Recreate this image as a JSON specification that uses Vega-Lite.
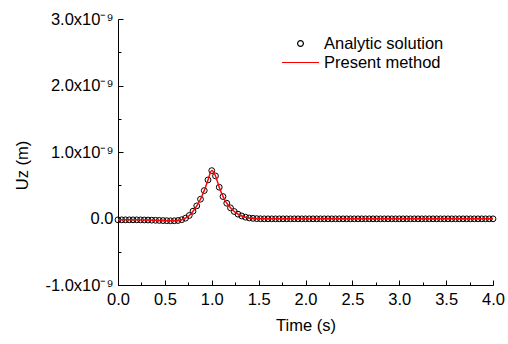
{
  "$schema": "https://vega.github.io/schema/vega-lite/v6.json",
  "width": 375,
  "height": 266,
  "autosize": "none",
  "padding": {"left": 118, "top": 19, "right": 15, "bottom": 59},
  "background": "white",
  "config": {
    "font": "Liberation Sans",
    "view": {"stroke": null},
    "axis": {"grid": false, "domainColor": "black", "domainWidth": 1, "tickColor": "black", "tickWidth": 1, "labelColor": "black", "titleColor": "black", "labelFontSize": 16.5, "titleFontSize": 16.5, "titleFontWeight": "normal", "labelFont": "Liberation Sans", "titleFont": "Liberation Sans"}
  },
  "data": {"values": [
    {"t": 0.00, "uz_nm": -0.02}, {"t": 0.04, "uz_nm": -0.02}, {"t": 0.08, "uz_nm": -0.02}, {"t": 0.12, "uz_nm": -0.02},
    {"t": 0.16, "uz_nm": -0.02}, {"t": 0.20, "uz_nm": -0.02}, {"t": 0.24, "uz_nm": -0.021}, {"t": 0.28, "uz_nm": -0.022},
    {"t": 0.32, "uz_nm": -0.023}, {"t": 0.36, "uz_nm": -0.025}, {"t": 0.40, "uz_nm": -0.027}, {"t": 0.44, "uz_nm": -0.029},
    {"t": 0.48, "uz_nm": -0.031}, {"t": 0.52, "uz_nm": -0.033}, {"t": 0.56, "uz_nm": -0.034}, {"t": 0.60, "uz_nm": -0.034},
    {"t": 0.64, "uz_nm": -0.03}, {"t": 0.68, "uz_nm": -0.018}, {"t": 0.72, "uz_nm": 0.005}, {"t": 0.76, "uz_nm": 0.045},
    {"t": 0.80, "uz_nm": 0.11}, {"t": 0.84, "uz_nm": 0.19}, {"t": 0.88, "uz_nm": 0.29}, {"t": 0.92, "uz_nm": 0.42},
    {"t": 0.96, "uz_nm": 0.58}, {"t": 1.00, "uz_nm": 0.72}, {"t": 1.04, "uz_nm": 0.64}, {"t": 1.08, "uz_nm": 0.47},
    {"t": 1.12, "uz_nm": 0.33}, {"t": 1.16, "uz_nm": 0.23}, {"t": 1.20, "uz_nm": 0.16}, {"t": 1.24, "uz_nm": 0.105},
    {"t": 1.28, "uz_nm": 0.065}, {"t": 1.32, "uz_nm": 0.038}, {"t": 1.36, "uz_nm": 0.02}, {"t": 1.40, "uz_nm": 0.008},
    {"t": 1.44, "uz_nm": 0.002}, {"t": 1.48, "uz_nm": -0.002}, {"t": 1.52, "uz_nm": -0.004}, {"t": 1.56, "uz_nm": -0.005},
    {"t": 1.60, "uz_nm": -0.005}, {"t": 1.64, "uz_nm": -0.005}, {"t": 1.68, "uz_nm": -0.005}, {"t": 1.72, "uz_nm": -0.005},
    {"t": 1.76, "uz_nm": -0.005}, {"t": 1.80, "uz_nm": -0.005}, {"t": 1.84, "uz_nm": -0.005}, {"t": 1.88, "uz_nm": -0.005},
    {"t": 1.92, "uz_nm": -0.005}, {"t": 1.96, "uz_nm": -0.005}, {"t": 2.00, "uz_nm": -0.005}, {"t": 2.04, "uz_nm": -0.005},
    {"t": 2.08, "uz_nm": -0.005}, {"t": 2.12, "uz_nm": -0.005}, {"t": 2.16, "uz_nm": -0.005}, {"t": 2.20, "uz_nm": -0.005},
    {"t": 2.24, "uz_nm": -0.005}, {"t": 2.28, "uz_nm": -0.005}, {"t": 2.32, "uz_nm": -0.005}, {"t": 2.36, "uz_nm": -0.005},
    {"t": 2.40, "uz_nm": -0.005}, {"t": 2.44, "uz_nm": -0.005}, {"t": 2.48, "uz_nm": -0.005}, {"t": 2.52, "uz_nm": -0.005},
    {"t": 2.56, "uz_nm": -0.005}, {"t": 2.60, "uz_nm": -0.005}, {"t": 2.64, "uz_nm": -0.005}, {"t": 2.68, "uz_nm": -0.005},
    {"t": 2.72, "uz_nm": -0.005}, {"t": 2.76, "uz_nm": -0.005}, {"t": 2.80, "uz_nm": -0.005}, {"t": 2.84, "uz_nm": -0.005},
    {"t": 2.88, "uz_nm": -0.005}, {"t": 2.92, "uz_nm": -0.005}, {"t": 2.96, "uz_nm": -0.005}, {"t": 3.00, "uz_nm": -0.005},
    {"t": 3.04, "uz_nm": -0.005}, {"t": 3.08, "uz_nm": -0.005}, {"t": 3.12, "uz_nm": -0.005}, {"t": 3.16, "uz_nm": -0.005},
    {"t": 3.20, "uz_nm": -0.005}, {"t": 3.24, "uz_nm": -0.005}, {"t": 3.28, "uz_nm": -0.005}, {"t": 3.32, "uz_nm": -0.005},
    {"t": 3.36, "uz_nm": -0.005}, {"t": 3.40, "uz_nm": -0.005}, {"t": 3.44, "uz_nm": -0.005}, {"t": 3.48, "uz_nm": -0.005},
    {"t": 3.52, "uz_nm": -0.005}, {"t": 3.56, "uz_nm": -0.005}, {"t": 3.60, "uz_nm": -0.005}, {"t": 3.64, "uz_nm": -0.005},
    {"t": 3.68, "uz_nm": -0.005}, {"t": 3.72, "uz_nm": -0.005}, {"t": 3.76, "uz_nm": -0.005}, {"t": 3.80, "uz_nm": -0.005},
    {"t": 3.84, "uz_nm": -0.005}, {"t": 3.88, "uz_nm": -0.005}, {"t": 3.92, "uz_nm": -0.005}, {"t": 3.96, "uz_nm": -0.005},
    {"t": 4.00, "uz_nm": -0.005}
  ]},
  "encoding": {
    "x": {
      "field": "t", "type": "quantitative",
      "scale": {"domain": [0, 4], "nice": false, "zero": false},
      "axis": {
        "title": "Time (s)",
        "values": [0, 0.25, 0.5, 0.75, 1, 1.25, 1.5, 1.75, 2, 2.25, 2.5, 2.75, 3, 3.25, 3.5, 3.75, 4],
        "labelExpr": "abs(datum.value*2 - round(datum.value*2)) > 1e-6 ? '' : format(datum.value, '.1f')",
        "tickSize": {"condition": {"test": "abs(datum.value*2 - round(datum.value*2)) < 1e-6", "value": -5}, "value": -3},
        "labelPadding": 11,
        "labelFlush": false,
        "labelOverlap": false,
        "titlePadding": 8
      }
    },
    "y": {
      "field": "uz_nm", "type": "quantitative",
      "scale": {"domain": [-1, 3], "nice": false, "zero": false},
      "axis": {
        "title": "Uz (m)",
        "values": [-1, -0.5, 0, 0.5, 1, 1.5, 2, 2.5, 3],
        "labelExpr": "abs(datum.value - round(datum.value)) > 1e-6 ? '' : (abs(datum.value) < 1e-9 ? '0.0' : (datum.value < 0 ? '-' : '') + format(abs(datum.value), '.1f') + 'x10⁻⁹')",
        "tickSize": {"condition": {"test": "abs(datum.value - round(datum.value)) < 1e-6", "value": -5}, "value": -3},
        "labelPadding": 10,
        "labelFlush": false,
        "labelOverlap": false,
        "titlePadding": 14,
        "titleY": 146
      }
    }
  },
  "layer": [
    {
      "mark": {"type": "point", "filled": false, "strokeWidth": 1, "opacity": 1},
      "encoding": {
        "color": {"datum": "Analytic solution", "type": "nominal", "scale": {"domain": ["Analytic solution", "Present method"], "range": ["black", "red"]},
          "legend": {
            "title": null, "orient": "none", "legendX": 163, "legendY": 15,
            "clipHeight": 19, "rowPadding": 0, "labelOffset": 4,
            "labelFontSize": 16.5, "labelColor": "black", "labelFont": "Liberation Sans",
            "symbolStrokeWidth": 1.2
          }},
        "shape": {"datum": "Analytic solution", "type": "nominal", "scale": {"domain": ["Analytic solution", "Present method"], "range": ["circle", "stroke"]},
          "legend": {
            "title": null, "orient": "none", "legendX": 163, "legendY": 15,
            "clipHeight": 19, "rowPadding": 0, "labelOffset": 4,
            "labelFontSize": 16.5, "labelColor": "black", "labelFont": "Liberation Sans",
            "symbolStrokeWidth": 1.2
          }},
        "size": {"datum": "Analytic solution", "type": "nominal", "scale": {"domain": ["Analytic solution", "Present method"], "range": [34, 1369]},
          "legend": {
            "title": null, "orient": "none", "legendX": 163, "legendY": 15,
            "clipHeight": 19, "rowPadding": 0, "labelOffset": 4,
            "labelFontSize": 16.5, "labelColor": "black", "labelFont": "Liberation Sans",
            "symbolStrokeWidth": 1.2
          }}
      }
    },
    {
      "mark": {"type": "line", "strokeWidth": 1.5, "interpolate": "monotone"},
      "encoding": {
        "color": {"datum": "Present method", "type": "nominal"}
      }
    }
  ]
}
